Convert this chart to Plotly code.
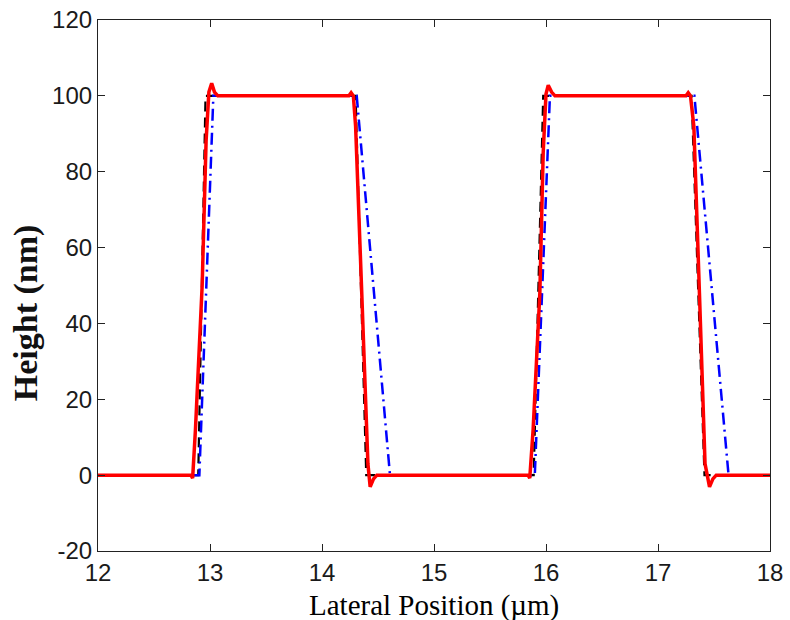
import plotly.graph_objects as go

# Ideal profile (black dashed)
x_ideal = [12.0, 12.895, 12.96, 14.30, 14.395, 15.89, 15.975, 17.30, 17.415, 18.0]
y_ideal = [0, 0, 100, 100, 0, 0, 100, 100, 0, 0]

# Blue dash-dot profile
x_blue = [12.0, 12.905, 13.03, 14.31, 14.607, 15.90, 16.035, 17.325, 17.63, 18.0]
y_blue = [0, 0, 100, 100, 0, 0, 100, 100, 0, 0]

# Red solid profile
x_red = [12.0, 12.83, 12.845, 12.87, 12.93, 12.965, 12.99, 13.015, 13.04, 13.07,
         14.24, 14.26, 14.28, 14.30, 14.355, 14.395, 14.41, 14.43, 14.46, 14.49,
         15.84, 15.855, 15.885, 15.945, 15.975, 16.0, 16.02, 16.05, 16.08,
         17.25, 17.27, 17.29, 17.32, 17.37, 17.405, 17.42, 17.46, 17.49, 17.52, 18.0]
y_red = [0, 0, -0.8, 12, 50, 88, 101, 103.3, 101, 100,
         100, 100.8, 100, 92, 48, 12, 3, -3.1, -1, 0,
         0, -0.8, 12, 48, 85, 100.5, 102.8, 101, 100,
         100, 100.8, 100, 92, 48, 12, 3, -3.1, -1, 0, 0]

x_ticks = [12, 13, 14, 15, 16, 17, 18]
y_ticks = [-20, 0, 20, 40, 60, 80, 100, 120]
x_title = "Lateral Position (\u00b5m)"
y_title = "Height (nm)"

fig = go.Figure()
fig.add_trace(go.Scatter(x=x_ideal, y=y_ideal, mode="lines",
                         line=dict(color="black", width=2.2, dash="10px,6px"),
                         showlegend=False, cliponaxis=False))
fig.add_trace(go.Scatter(x=x_blue, y=y_blue, mode="lines",
                         line=dict(color="#0000ff", width=2.5, dash="12px,5px,2px,5px"),
                         showlegend=False))
fig.add_trace(go.Scatter(x=x_red, y=y_red, mode="lines",
                         line=dict(color="#ff0000", width=3.5),
                         showlegend=False))

axis_common = dict(showgrid=False, zeroline=False, showline=True, linecolor="#222",
                   linewidth=1.2, mirror="ticks", ticks="inside", ticklen=7,
                   tickcolor="#222", tickwidth=1.2, automargin=False,
                   tickfont=dict(family="Liberation Sans, Arial", size=24, color="#1a1a1a"))

fig.update_xaxes(range=[12, 18], tickvals=x_ticks, ticktext=[str(v) for v in x_ticks],
                 **axis_common)
fig.update_yaxes(range=[-20, 120], tickvals=y_ticks, ticktext=[str(v) for v in y_ticks],
                 **axis_common)

fig.add_annotation(text=x_title, xref="paper", yref="paper", x=0.5, y=-0.102,
                   xanchor="center", yanchor="middle", showarrow=False,
                   font=dict(family="Liberation Serif, Times New Roman", size=29, color="black"))
fig.add_annotation(text="<b>" + y_title + "</b>", xref="paper", yref="paper", x=-0.107, y=0.448,
                   xanchor="center", yanchor="middle", textangle=-90, showarrow=False,
                   font=dict(family="Liberation Serif, Times New Roman", size=34, color="#111"))

fig.update_layout(width=790, height=620, margin=dict(l=98, r=20, t=20, b=69, autoexpand=False),
                  paper_bgcolor="white", plot_bgcolor="white")

fig.write_html("out.html")
